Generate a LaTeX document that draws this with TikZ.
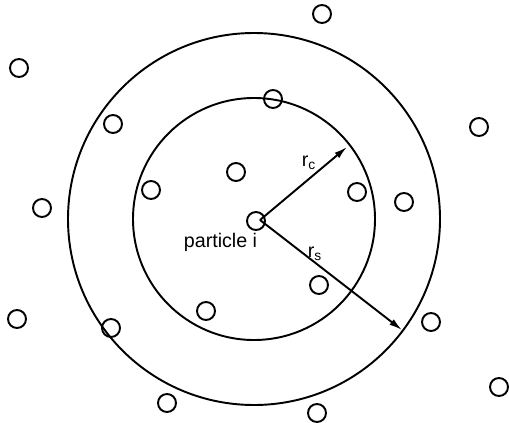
\documentclass[tikz,border=0pt]{standalone}
\usepackage{fontspec}
\setmainfont{Liberation Sans}
\usetikzlibrary{arrows.meta}
\tikzset{
  particle/.style={draw, circle, line width=1.1pt, minimum size=0.36cm, inner sep=0pt},
  shell/.style={line width=1.1pt},
  radius arrow/.style={line width=1.1pt, -{Latex[length=2.6mm,width=1.4mm]}},
  lbl/.style={font=\fontsize{11.2}{13}\selectfont, inner sep=0pt}
}
\begin{document}
\begin{tikzpicture}[x=0.02cm,y=-0.02cm]
\useasboundingbox (0,0) rectangle (509,422);

\coordinate (cc) at (254,219);
\draw[shell] (cc) circle (121);
\draw[shell] (cc) circle (186);

\node[particle] (pi) at (256,221) {};
\foreach \px/\py [count=\i] in {322/14, 19/68, 273/99, 113/124, 479/127, 236/172,
  151/190, 357/192, 404/202, 42/208, 319/285, 206/311, 17/319, 111/328,
  431/322, 499/387, 167/403, 317/413}
  \node[particle] (p\i) at (\px,\py) {};

\coordinate (o) at (260,220);
\coordinate (rctip) at (347,147);
\coordinate (rstip) at (402,330);
\draw[radius arrow] (o) -- (rctip);
\draw[radius arrow] (o) -- (rstip);

\node[lbl] (rc) at (309,163) {r\textsubscript{c}};
\node[lbl] (rs) at (315,254) {r\textsubscript{s}};
\node[lbl, anchor=base] (name) at (220.5,247) {particle i};
\end{tikzpicture}
\end{document}
